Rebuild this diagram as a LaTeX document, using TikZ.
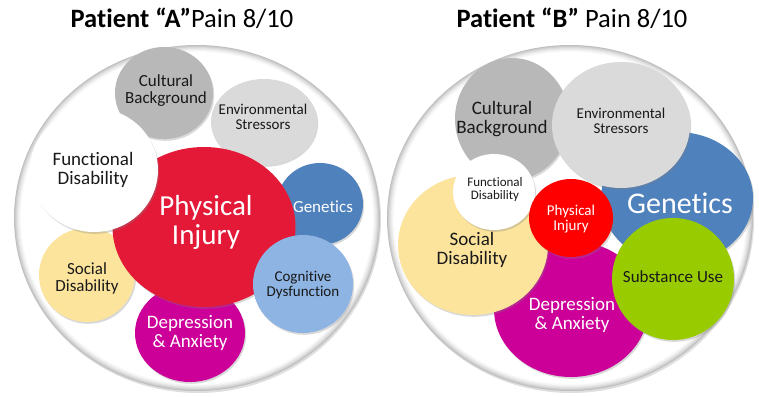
\documentclass[tikz,border=0pt]{standalone}
\usepackage{fontspec}
\setmainfont{Carlito}[Ligatures=NoCommon]
\usetikzlibrary{shapes.geometric,shadows}
\definecolor{txt}{RGB}{25,25,25}
\definecolor{cultc}{RGB}{184,184,184}
\definecolor{envc}{RGB}{218,218,218}
\definecolor{redA}{RGB}{227,25,55}
\definecolor{redB}{RGB}{255,0,0}
\definecolor{bluec}{RGB}{79,129,189}
\definecolor{lbluec}{RGB}{141,180,226}
\definecolor{yelc}{RGB}{252,228,157}
\definecolor{magc}{RGB}{204,0,153}
\definecolor{grnc}{RGB}{153,204,0}
\newcommand\fsz[1]{\fontsize{#1}{#1}\selectfont}
\tikzset{
  blob/.style={ellipse, inner sep=0pt, outer sep=0pt,
    drop shadow={opacity=0.3, shadow xshift=1.2pt, shadow yshift=-1.8pt}},
  lbl/.style={align=center, text=txt, inner sep=0pt},
  wlbl/.style={align=center, text=white, inner sep=0pt},
  ttl/.style={inner sep=0pt, anchor=base, font=\fsz{26.5}},
}
\begin{document}
\begin{tikzpicture}[x=1pt,y=-1pt]
\useasboundingbox (0,0) rectangle (759,396);
% titles
\node[ttl] (tA) at (182,28) {\textbf{Patient “A”}Pain 8/10};
\node[ttl] (tB) at (572,28) {\textbf{Patient “B”} Pain 8/10};
% outer rings
\foreach \cx in {197,570}{
  \fill[gray!50, drop shadow={opacity=0.25, shadow xshift=1pt, shadow yshift=-2pt}] (\cx,218) ellipse [x radius=183, y radius=173];
  \foreach \i/\c in {1/40,2/30,3/22,4/15,5/9,6/4,7/0}
    \fill[gray!\c] (\cx,218) ellipse [x radius={183-\i}, y radius={173-\i}];
}
% ---------- Patient A ----------
\node[blob, fill=cultc, minimum width=98, minimum height=92] (cultA) at (164,93) {};
\node[blob, fill=envc, minimum width=106, minimum height=86] (envA) at (264,122) {};
\node[blob, fill=bluec, minimum width=86, minimum height=82] (genA) at (320,204) {};
\node[blob, fill=yelc, minimum width=96, minimum height=94] (socA) at (87,275) {};
\node[blob, fill=magc, minimum width=110, minimum height=98] (depA) at (190,333) {};
\node[blob, fill=redA, minimum width=183, minimum height=160] (phyA) at (204,227) {};
\node[blob, fill=white, minimum width=128, minimum height=124] (funA) at (94,170) {};
\node[blob, fill=lbluec, minimum width=100, minimum height=98] (cogA) at (303,284) {};
\node[lbl, font=\fsz{17}] (lcultA) at (166,91) {Cultural\\Background};
\node[lbl, font=\fsz{15}] (lenvA) at (263,117) {Environmental\\Stressors};
\node[wlbl, font=\fsz{17}] (lgenA) at (323,207) {Genetics};
\node[lbl, font=\fsz{17}] (lsocA) at (87,278) {Social\\Disability};
\node[wlbl, font=\fsz{19}] (ldepA) at (190,333) {Depression\\\& Anxiety};
\node[wlbl, font=\fsz{29}] (lphyA) at (206,222) {Physical\\Injury};
\node[lbl, font=\fsz{19}] (lfunA) at (93,170) {Functional\\Disability};
\node[lbl, font=\fsz{15}] (lcogA) at (303,285) {Cognitive\\Dysfunction};
% ---------- Patient B ----------
\node[blob, fill=bluec, minimum width=152, minimum height=132] (genB) at (677,198) {};
\node[blob, fill=cultc, minimum width=114, minimum height=122] (cultB) at (512,119) {};
\node[blob, fill=envc, minimum width=138, minimum height=126] (envB) at (621,125) {};
\node[blob, fill=magc, minimum width=154, minimum height=136] (depB) at (571,309) {};
\node[blob, fill=yelc, minimum width=150, minimum height=140] (socB) at (473,245) {};
\node[blob, fill=white, minimum width=82, minimum height=76] (funB) at (494,192) {};
\node[blob, fill=redB, minimum width=84, minimum height=78] (phyB) at (571,218) {};
\node[blob, fill=grnc, minimum width=122, minimum height=122] (subB) at (673,279) {};
\node[lbl, font=\fsz{19}] (lcultB) at (502,119) {Cultural\\Background};
\node[lbl, font=\fsz{15}] (lenvB) at (621,121) {Environmental\\Stressors};
\node[wlbl, font=\fsz{30}] (lgenB) at (680,203) {Genetics};
\node[lbl, font=\fsz{13}] (lfunB) at (495,190) {Functional\\Disability};
\node[wlbl, font=\fsz{15}] (lphyB) at (571,219) {Physical\\Injury};
\node[lbl, font=\fsz{19}] (lsocB) at (472,250) {Social\\Disability};
\node[wlbl, font=\fsz{19}] (ldepB) at (572,315) {Depression\\\& Anxiety};
\node[lbl, font=\fsz{17}] (lsubB) at (673,277) {Substance Use};
\end{tikzpicture}
\end{document}
